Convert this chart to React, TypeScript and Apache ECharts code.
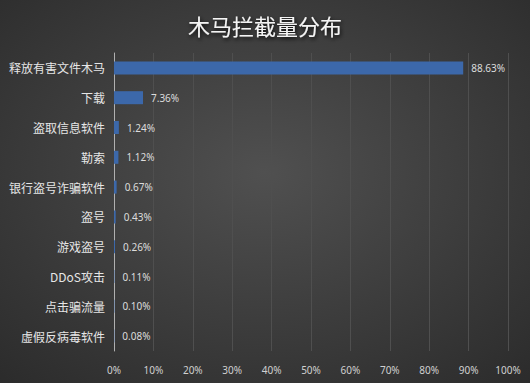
import React, { useEffect, useRef } from "react";
import * as echarts from "echarts";

const categories = [
  "释放有害文件木马",
  "下载",
  "盗取信息软件",
  "勒索",
  "银行盗号诈骗软件",
  "盗号",
  "游戏盗号",
  "DDoS攻击",
  "点击骗流量",
  "虚假反病毒软件",
];
const values = [88.63, 7.36, 1.24, 1.12, 0.67, 0.43, 0.26, 0.11, 0.1, 0.08];
const title = "木马拦截量分布";

export default function App() {
  const ref = useRef<HTMLDivElement>(null);
  useEffect(() => {
    document.body.style.margin = "0";
    const chart = echarts.init(ref.current!, null, { renderer: "svg" });
    chart.setOption({
      animation: false,
      backgroundColor: new echarts.graphic.RadialGradient(0.5, 0.45, 0.75, [
        { offset: 0, color: "#505050" },
        { offset: 1, color: "#2b2b2b" },
      ]),
      title: {
        text: title,
        left: "center",
        top: 9,
        textStyle: {
          color: "#f4f4f4",
          fontSize: 22,
          fontWeight: "normal",
          fontFamily: "Noto Sans CJK SC",
          textShadowColor: "rgba(0,0,0,0.9)",
          textShadowBlur: 4,
          textShadowOffsetX: 1,
          textShadowOffsetY: 2,
        },
      },
      grid: { left: 114, right: 22, top: 53, bottom: 32, containLabel: false },
      xAxis: {
        type: "value",
        min: 0,
        max: 100,
        interval: 10,
        axisLine: { show: false },
        axisTick: { show: false },
        splitLine: { show: true, lineStyle: { color: "#4f4f4f", width: 1 } },
        axisLabel: {
          formatter: "{value}%",
          color: "#d0d0d0",
          fontSize: 10,
          margin: 14,
          fontFamily: "Noto Sans",
        },
      },
      yAxis: {
        type: "category",
        data: categories,
        inverse: true,
        axisLine: { show: true, lineStyle: { color: "#b0b0b0", width: 1 } },
        axisTick: { show: false },
        axisLabel: {
          color: "#e6e6e6",
          fontSize: 12,
          margin: 9,
          fontFamily: "Noto Sans CJK SC",
        },
      },
      series: [
        {
          type: "bar",
          data: values,
          barWidth: 13,
          itemStyle: { color: "#3c68aa" },
          label: {
            show: true,
            position: "right",
            distance: 8,
            formatter: (p: any) => Number(p.value).toFixed(2) + "%",
            color: "#dcdcdc",
            fontSize: 10,
            fontFamily: "Noto Sans",
          },
        },
      ],
    });
    return () => chart.dispose();
  }, []);
  return <div ref={ref} style={{ width: 530, height: 383 }} />;
}
